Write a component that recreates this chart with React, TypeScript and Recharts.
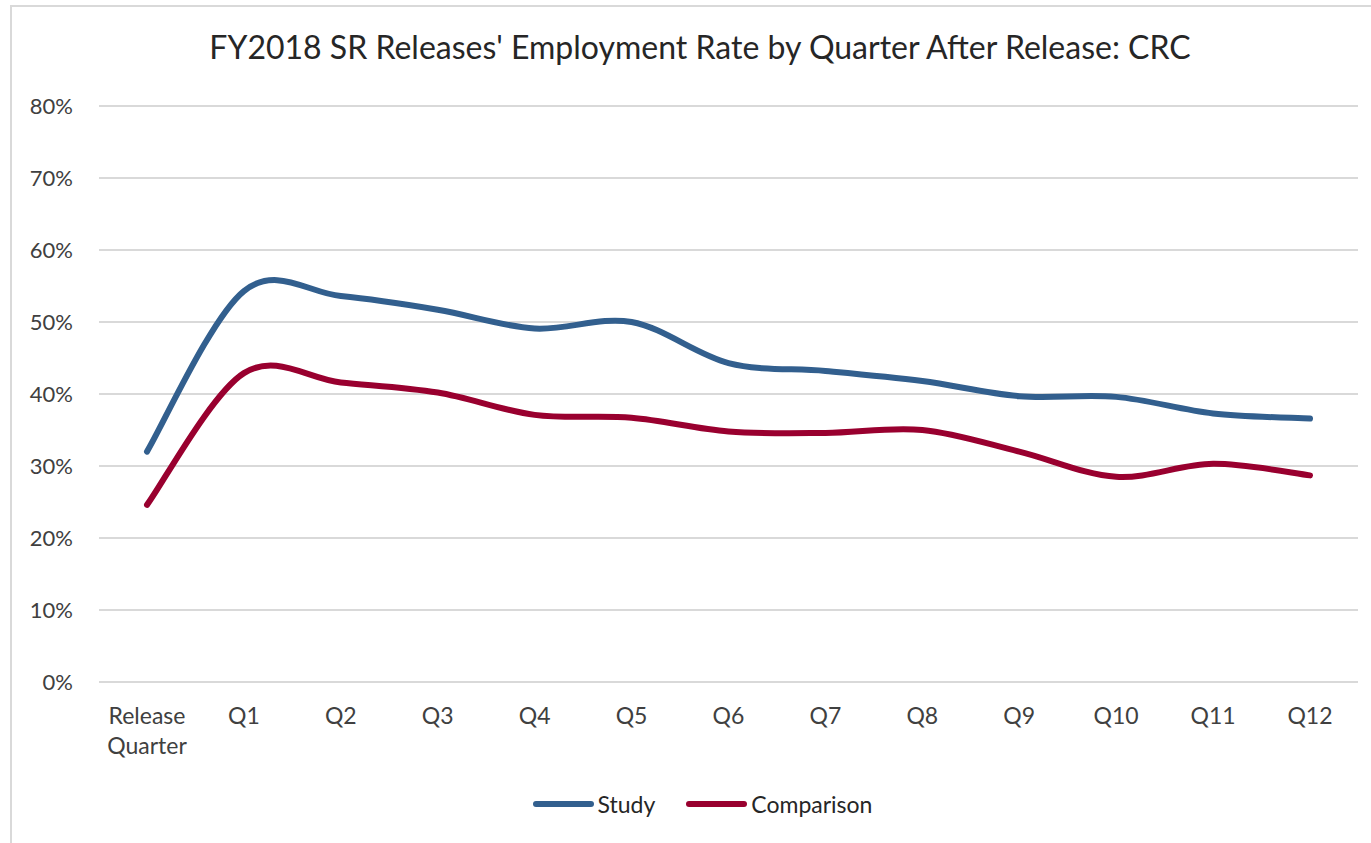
import React from "react";
import { LineChart, Line, XAxis, YAxis, CartesianGrid, Legend } from "recharts";

const categories = ["Release Quarter", "Q1", "Q2", "Q3", "Q4", "Q5", "Q6", "Q7", "Q8", "Q9", "Q10", "Q11", "Q12"];
const study = [32.0, 54.3, 53.6, 51.7, 49.1, 50.0, 44.3, 43.2, 41.8, 39.7, 39.6, 37.3, 36.6];
const comparison = [24.6, 42.9, 41.6, 40.2, 37.1, 36.7, 34.8, 34.6, 35.0, 32.0, 28.5, 30.3, 28.7];
const yTicks = [0, 10, 20, 30, 40, 50, 60, 70, 80];
const seriesOrder = ["Study", "Comparison"];

const STUDY_COLOR = "#325f8e";
const COMP_COLOR = "#99002f";
const FONT = "Lato, 'Open Sans', sans-serif";

const data = categories.map((c, i) => ({ cat: c, Study: study[i], Comparison: comparison[i] }));

// Excel-like smoothed line (Catmull-Rom style bezier)
function excelCurve(context: any) {
  let pts: number[][] = [];
  return {
    areaStart() {},
    areaEnd() {},
    lineStart() {
      pts = [];
    },
    point(x: number, y: number) {
      pts.push([+x, +y]);
    },
    lineEnd() {
      if (!pts.length) return;
      context.moveTo(pts[0][0], pts[0][1]);
      for (let i = 0; i < pts.length - 1; i++) {
        const p0 = pts[i - 1] || pts[i];
        const p1 = pts[i];
        const p2 = pts[i + 1];
        const p3 = pts[i + 2] || pts[i + 1];
        const c1x = p1[0] + (p2[0] - p0[0]) / 6;
        const c1y = p1[1] + (p2[1] - p0[1]) / 6;
        const c2x = p2[0] - (p3[0] - p1[0]) / 6;
        const c2y = p2[1] - (p3[1] - p1[1]) / 6;
        context.bezierCurveTo(c1x, c1y, c2x, c2y, p2[0], p2[1]);
      }
    },
  };
}

const XTick = (props: any) => {
  const { x, y, payload } = props;
  const parts = String(payload.value).split(" ");
  return (
    <text x={x} y={y} textAnchor="middle" fill="#404040" fontFamily={FONT} fontSize={23}>
      {parts.map((p, i) => (
        <tspan key={i} x={x} y={y + 42 + i * 30}>
          {p}
        </tspan>
      ))}
    </text>
  );
};

const LegendContent = (props: any) => {
  const items = [...(props.payload || [])].sort(
    (a: any, b: any) => seriesOrder.indexOf(a.value) - seriesOrder.indexOf(b.value)
  );
  return (
    <div style={{ display: "flex", justifyContent: "center", alignItems: "center", fontFamily: FONT, fontSize: 23, color: "#262626" }}>
      {items.map((p: any, i: number) => (
        <div key={i} style={{ display: "flex", alignItems: "center", marginLeft: i === 0 ? 0 : 31 }}>
          <div style={{ width: 61, height: 6, borderRadius: 3, background: p.color, marginRight: 4 }} />
          <span>{p.value}</span>
        </div>
      ))}
    </div>
  );
};

export default function App() {
  return (
    <div style={{ position: "absolute", left: 0, top: 0, width: 1371, height: 843, background: "#fff", overflow: "hidden" }}>
      <div
        style={{
          position: "absolute",
          left: 10,
          top: 5,
          width: 1400,
          height: 900,
          borderLeft: "2px solid #d9d9d9",
          borderTop: "2px solid #d9d9d9",
        }}
      />
      <div
        style={{
          position: "absolute",
          left: 0,
          top: 27,
          width: 1400,
          textAlign: "center",
          fontFamily: FONT,
          fontSize: 32,
          color: "#262626",
          whiteSpace: "nowrap",
        }}
      >
        FY2018 SR Releases' Employment Rate by Quarter After Release: CRC
      </div>
      <div style={{ position: "absolute", left: 0, top: 0 }}>
        <LineChart width={1371} height={843} data={data} margin={{ top: 106, right: 13, left: 0, bottom: 101 }}>
          <CartesianGrid vertical={false} stroke="#d9d9d9" strokeWidth={2} />
          <XAxis
            dataKey="cat"
            interval={0}
            tickLine={false}
            axisLine={false}
            tickSize={0}
            tickMargin={0}
            height={60}
            padding={{ left: 48, right: 48 }}
            tick={<XTick />}
          />
          <YAxis
            domain={[0, 80]}
            ticks={yTicks}
            width={99}
            tickLine={false}
            axisLine={false}
            tickSize={0}
            tickMargin={26}
            tickFormatter={(v: number) => `${v}%`}
            tick={{ fill: "#404040", fontFamily: FONT, fontSize: 22 }}
          />
          <Legend
            layout="horizontal"
            verticalAlign="middle"
            align="center"
            content={<LegendContent />}
            wrapperStyle={{ top: 790, left: 0, width: 1405 }}
          />
          <Line
            dataKey="Study"
            type={excelCurve as any}
            stroke={STUDY_COLOR}
            strokeWidth={6}
            strokeLinecap="round"
            dot={false}
            activeDot={false}
            isAnimationActive={false}
          />
          <Line
            dataKey="Comparison"
            type={excelCurve as any}
            stroke={COMP_COLOR}
            strokeWidth={6}
            strokeLinecap="round"
            dot={false}
            activeDot={false}
            isAnimationActive={false}
          />
        </LineChart>
      </div>
    </div>
  );
}
